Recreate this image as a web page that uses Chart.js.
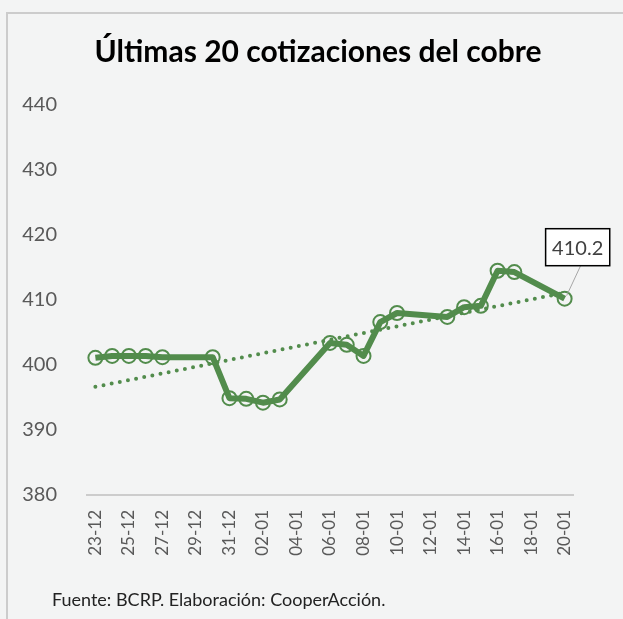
<!DOCTYPE html>
<html>
<head>
<meta charset="utf-8">
<script src="https://cdn.jsdelivr.net/npm/chart.js@4/dist/chart.umd.min.js"></script>
<style>
  body { margin: 0; background: #f3f4f4; width: 623px; height: 619px; overflow: hidden; position: relative; font-family: Lato, sans-serif; }
  #frame { position: absolute; left: 6px; top: 12px; width: 700px; height: 700px; border: 2px solid #cccccc; }
  #title { position: absolute; left: 0; width: 636px; top: 32px; text-align: center; font-size: 30px; font-weight: bold; color: #000; }
  #footer { position: absolute; left: 52px; top: 588px; font-size: 18px; color: #222; }
  #chart { position: absolute; left: 0; top: 0; }
</style>
</head>
<body>
<div id="frame"></div>
<canvas id="chart" width="623" height="619"></canvas>
<div id="title">Últimas 20 cotizaciones del cobre</div>
<div id="footer">Fuente: BCRP. Elaboración: CooperAcción.</div>
<script>
// trading days and prices
var dates = ['23-12','24-12','25-12','26-12','27-12','30-12','31-12','01-01','02-01','03-01',
             '06-01','07-01','08-01','09-01','10-01','13-01','14-01','15-01','16-01','17-01','20-01'];
var prices = [401.1, 401.4, 401.4, 401.4, 401.2, 401.2, 394.9, 394.8, 394.2, 394.7,
              403.4, 403.1, 401.4, 406.6, 408.0, 407.4, 408.9, 409.1, 414.5, 414.3, 410.2];
var tickLabels = ['23-12','25-12','27-12','29-12','31-12','02-01','04-01','06-01',
                  '08-01','10-01','12-01','14-01','16-01','18-01','20-01'];
var yTicks = [380, 390, 400, 410, 420, 430, 440];

var green = '#528c4c';

// day number counted from the first date (Dec -> previous year)
function dayNum(s) {
    var p = s.split('-').map(Number);
    var year = p[1] == 12 ? 2019 : 2020;
    return Math.round((Date.UTC(year, p[1] - 1, p[0]) - Date.UTC(2019, 11, 23)) / 86400000);
}

var points = dates.map(function(d, i){ return {x: dayNum(d), y: prices[i]}; });
var tickDays = tickLabels.map(dayNum);

// linear trend (least squares on the day numbers)
function trendLine(pts) {
    var n = pts.length, sx = 0, sy = 0, sxy = 0, sxx = 0;
    pts.forEach(function(p){ sx += p.x; sy += p.y; sxy += p.x * p.y; sxx += p.x * p.x; });
    var b = (n * sxy - sx * sy) / (n * sxx - sx * sx);
    var a = (sy - b * sx) / n;
    var x0 = pts[0].x, x1 = pts[n - 1].x;
    return [{x: x0, y: a + b * x0}, {x: x1, y: a + b * x1}];
}

// boxed label on the last quotation
var lastLabel = {
    id: 'lastLabel',
    afterDatasetsDraw: function(chart) {
        var pt = chart.getDatasetMeta(0).data[prices.length - 1];
        var ctx = chart.ctx;
        var text = prices[prices.length - 1].toFixed(1);
        ctx.save();
        ctx.font = '20px Lato';
        var w = ctx.measureText(text).width + 13;
        var h = 37;
        var bx = pt.x - 19, by = pt.y - 70;
        ctx.strokeStyle = '#a6a6a6';
        ctx.lineWidth = 1;
        ctx.beginPath();
        ctx.moveTo(pt.x + 2, pt.y - 3);
        ctx.lineTo(pt.x + 16, by + h);
        ctx.stroke();
        ctx.fillStyle = '#ffffff';
        ctx.fillRect(bx, by, w, h);
        ctx.strokeStyle = '#000000';
        ctx.lineWidth = 1.5;
        ctx.strokeRect(bx, by, w, h);
        ctx.fillStyle = '#404040';
        ctx.textAlign = 'center';
        ctx.textBaseline = 'middle';
        ctx.fillText(text, bx + w / 2, by + h / 2 + 1);
        ctx.restore();
    }
};

new Chart(document.getElementById('chart'), {
    type: 'line',
    data: {
        datasets: [{
            data: points,
            borderColor: green,
            borderWidth: 6,
            borderJoinStyle: 'round',
            tension: 0,
            pointRadius: 7,
            pointBorderWidth: 2,
            pointBorderColor: green,
            pointBackgroundColor: 'rgba(0,0,0,0)'
        }, {
            data: trendLine(points),
            borderColor: green,
            borderWidth: 4,
            borderDash: [0, 8.3],
            borderCapStyle: 'round',
            pointRadius: 0
        }]
    },
    options: {
        responsive: false,
        animation: false,
        layout: { padding: { left: 10, top: 105, right: 50, bottom: 54 } },
        plugins: {
            legend: { display: false },
            title: { display: false },
            tooltip: { enabled: false }
        },
        scales: {
            x: {
                type: 'linear',
                min: -0.5,
                max: 28.5,
                afterBuildTicks: function(s){ s.ticks = tickDays.map(function(v){ return {value: v}; }); },
                afterFit: function(s){ s.height = 70; },
                grid: { display: false, drawTicks: false },
                border: { color: '#cccccc', width: 2 },
                ticks: {
                    autoSkip: false,
                    minRotation: 90,
                    maxRotation: 90,
                    padding: 15,
                    color: '#595959',
                    font: { family: 'Lato', size: 17 },
                    callback: function(v, i){ return tickLabels[i]; }
                }
            },
            y: {
                min: 380,
                max: 440,
                afterBuildTicks: function(s){ s.ticks = yTicks.map(function(v){ return {value: v}; }); },
                afterFit: function(s){ s.width = 77; },
                grid: { display: false, drawTicks: false },
                border: { display: false },
                ticks: {
                    padding: 30,
                    color: '#595959',
                    font: { family: 'Lato', size: 20 }
                }
            }
        }
    },
    plugins: [lastLabel]
});
</script>
</body>
</html>
